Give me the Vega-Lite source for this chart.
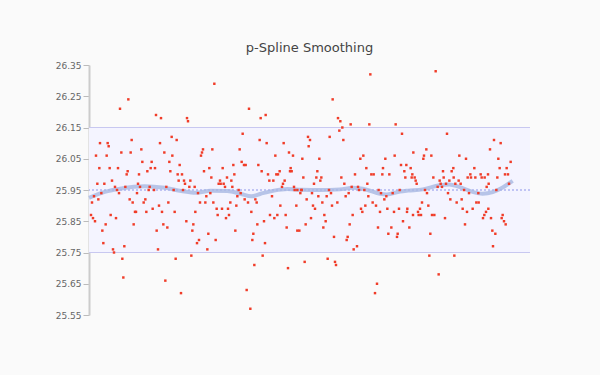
{
  "$schema": "https://vega.github.io/schema/vega-lite/v6.json",
  "width": 441,
  "height": 250,
  "autosize": "none",
  "padding": {"left": 89, "top": 65, "right": 70, "bottom": 60},
  "background": "#fafafa",
  "title": {"text": "p-Spline Smoothing", "font": "DejaVu Sans", "fontSize": 13, "fontWeight": "normal", "color": "#444", "anchor": "middle", "offset": 6},
  "config": {
    "view": {"stroke": null},
    "axisY": {"title": null, "grid": false, "labelOverlap": false, "labelBound": false, "labelFlush": false,
      "domainColor": "#cccccc", "domainWidth": 2, "tickColor": "#bbbbbb", "tickSize": 6, "tickWidth": 1,
      "labelFont": "DejaVu Sans", "labelFontSize": 9, "labelColor": "#666666", "labelPadding": 2}
  },
  "datasets": {
    "band": [{"lo": 25.75, "hi": 26.15}],
    "ref": [{"y": 25.95}],
    "smooth": [
      {"x": 3, "y": 25.925}, {"x": 50, "y": 25.944}, {"x": 100, "y": 25.955}, {"x": 170, "y": 25.962}, {"x": 230, "y": 25.957}, {"x": 280, "y": 25.947}, {"x": 324, "y": 25.941}, {"x": 368, "y": 25.948}, {"x": 418, "y": 25.947}, {"x": 458, "y": 25.938}, {"x": 490, "y": 25.930}, {"x": 518, "y": 25.938}, {"x": 558, "y": 25.948}, {"x": 598, "y": 25.953}, {"x": 642, "y": 25.951}, {"x": 696, "y": 25.950}, {"x": 756, "y": 25.952}, {"x": 796, "y": 25.957}, {"x": 836, "y": 25.951}, {"x": 876, "y": 25.938}, {"x": 896, "y": 25.936}, {"x": 936, "y": 25.945}, {"x": 960, "y": 25.948}, {"x": 1004, "y": 25.952}, {"x": 1054, "y": 25.965}, {"x": 1084, "y": 25.968}, {"x": 1114, "y": 25.960}, {"x": 1154, "y": 25.944}, {"x": 1184, "y": 25.938}, {"x": 1214, "y": 25.943}, {"x": 1244, "y": 25.958}, {"x": 1274, "y": 25.979}
    ],
    "pts": [
      {"x":121,"y":26.24},{"x":96,"y":26.21},{"x":204,"y":26.19},{"x":219,"y":26.18},{"x":297,"y":26.18},{"x":300,"y":26.17},{"x":251,"y":26.12},{"x":131,"y":26.11},{"x":266,"y":26.11},{"x":36,"y":26.10},{"x":59,"y":26.10},{"x":62,"y":26.09},{"x":216,"y":26.10},{"x":100,"y":26.07},{"x":128,"y":26.07},{"x":229,"y":26.07},{"x":24,"y":26.06},{"x":56,"y":26.06},{"x":253,"y":26.06},{"x":160,"y":26.08},{"x":163,"y":26.04},{"x":191,"y":26.04},{"x":244,"y":26.04},{"x":275,"y":26.03},{"x":34,"y":26.02},{"x":65,"y":26.02},{"x":90,"y":26.02},{"x":188,"y":26.02},{"x":201,"y":26.02},{"x":178,"y":26.01},{"x":119,"y":26.01},{"x":247,"y":26.01},{"x":116,"y":26.00},{"x":153,"y":26.00},{"x":269,"y":26.00},{"x":282,"y":26.00},{"x":72,"y":25.98},{"x":272,"y":25.98},{"x":288,"y":25.98},{"x":307,"y":25.98},{"x":28,"y":25.97},{"x":49,"y":25.97},{"x":150,"y":25.97},{"x":291,"y":25.97},{"x":81,"y":25.96},{"x":112,"y":25.96},{"x":156,"y":25.96},{"x":185,"y":25.96},{"x":235,"y":25.96},{"x":304,"y":25.96},{"x":320,"y":25.96},{"x":87,"y":25.95},{"x":182,"y":25.95},{"x":198,"y":25.95},{"x":257,"y":25.95},{"x":285,"y":25.95},{"x":40,"y":25.94},{"x":93,"y":25.94},{"x":147,"y":25.94},{"x":18,"y":25.93},{"x":31,"y":25.92},{"x":125,"y":25.92},{"x":172,"y":25.92},{"x":12,"y":25.91},{"x":134,"y":25.91},{"x":167,"y":25.91},{"x":241,"y":25.91},{"x":213,"y":25.90},{"x":194,"y":25.89},{"x":141,"y":25.88},{"x":144,"y":25.88},{"x":175,"y":25.88},{"x":222,"y":25.88},{"x":260,"y":25.88},{"x":322,"y":25.88},{"x":9,"y":25.87},{"x":68,"y":25.87},{"x":15,"y":25.86},{"x":84,"y":25.86},{"x":21,"y":25.85},{"x":295,"y":25.85},{"x":53,"y":25.84},{"x":137,"y":25.84},{"x":226,"y":25.84},{"x":316,"y":25.84},{"x":238,"y":25.83},{"x":43,"y":25.82},{"x":206,"y":25.82},{"x":313,"y":25.82},{"x":46,"y":25.78},{"x":109,"y":25.77},{"x":75,"y":25.76},{"x":210,"y":25.76},{"x":78,"y":25.75},{"x":310,"y":25.74},{"x":103,"y":25.73},{"x":263,"y":25.73},{"x":106,"y":25.67},{"x":232,"y":25.66},{"x":279,"y":25.62},
      {"x":379,"y":26.29},{"x":483,"y":26.21},{"x":533,"y":26.19},{"x":518,"y":26.18},{"x":464,"y":26.13},{"x":515,"y":26.11},{"x":536,"y":26.10},{"x":587,"y":26.10},{"x":345,"y":26.08},{"x":373,"y":26.08},{"x":455,"y":26.08},{"x":342,"y":26.07},{"x":603,"y":26.07},{"x":339,"y":26.06},{"x":562,"y":26.06},{"x":615,"y":26.06},{"x":461,"y":26.04},{"x":468,"y":26.03},{"x":473,"y":26.03},{"x":436,"y":26.03},{"x":511,"y":26.03},{"x":608,"y":26.02},{"x":364,"y":26.02},{"x":404,"y":26.02},{"x":348,"y":26.01},{"x":521,"y":26.01},{"x":575,"y":26.01},{"x":606,"y":26.01},{"x":611,"y":26.01},{"x":439,"y":26.00},{"x":540,"y":26.00},{"x":565,"y":26.00},{"x":570,"y":26.00},{"x":370,"y":25.99},{"x":417,"y":25.99},{"x":396,"y":25.98},{"x":430,"y":25.98},{"x":544,"y":25.98},{"x":556,"y":25.98},{"x":590,"y":25.98},{"x":392,"y":25.97},{"x":398,"y":25.97},{"x":407,"y":25.97},{"x":585,"y":25.97},{"x":411,"y":25.96},{"x":433,"y":25.96},{"x":582,"y":25.96},{"x":618,"y":25.96},{"x":452,"y":25.95},{"x":620,"y":25.95},{"x":628,"y":25.95},{"x":640,"y":25.95},{"x":330,"y":25.94},{"x":367,"y":25.94},{"x":458,"y":25.94},{"x":637,"y":25.94},{"x":355,"y":25.93},{"x":448,"y":25.93},{"x":552,"y":25.93},{"x":625,"y":25.90},{"x":470,"y":25.92},{"x":502,"y":25.92},{"x":336,"y":25.91},{"x":352,"y":25.91},{"x":376,"y":25.91},{"x":427,"y":25.91},{"x":480,"y":25.91},{"x":506,"y":25.91},{"x":445,"y":25.90},{"x":577,"y":25.90},{"x":386,"y":25.89},{"x":402,"y":25.89},{"x":420,"y":25.89},{"x":490,"y":25.88},{"x":389,"y":25.87},{"x":423,"y":25.87},{"x":546,"y":25.87},{"x":568,"y":25.87},{"x":593,"y":25.87},{"x":414,"y":25.86},{"x":559,"y":25.86},{"x":528,"y":25.85},{"x":508,"y":25.84},{"x":596,"y":25.83},{"x":628,"y":25.82},{"x":634,"y":25.82},{"x":361,"y":25.81},{"x":442,"y":25.82},{"x":496,"y":25.81},{"x":333,"y":25.79},{"x":383,"y":25.79},{"x":493,"y":25.79},{"x":327,"y":25.78},{"x":531,"y":25.78},{"x":358,"y":25.76},{"x":524,"y":25.74},{"x":499,"y":25.71},{"x":600,"y":25.70},{"x":476,"y":25.63},{"x":487,"y":25.57},
      {"x":847,"y":26.32},{"x":734,"y":26.24},{"x":750,"y":26.18},{"x":757,"y":26.17},{"x":763,"y":26.15},{"x":754,"y":26.14},{"x":788,"y":26.16},{"x":844,"y":26.16},{"x":923,"y":26.16},{"x":942,"y":26.13},{"x":660,"y":26.12},{"x":666,"y":26.11},{"x":725,"y":26.12},{"x":766,"y":26.11},{"x":662,"y":26.09},{"x":826,"y":26.06},{"x":817,"y":26.05},{"x":920,"y":26.06},{"x":643,"y":26.05},{"x":694,"y":26.05},{"x":892,"y":26.05},{"x":939,"y":26.03},{"x":955,"y":26.03},{"x":835,"y":26.02},{"x":885,"y":26.02},{"x":688,"y":26.01},{"x":949,"y":26.01},{"x":801,"y":26.00},{"x":850,"y":26.00},{"x":857,"y":26.00},{"x":883,"y":26.00},{"x":904,"y":26.00},{"x":646,"y":25.99},{"x":685,"y":25.99},{"x":700,"y":25.99},{"x":760,"y":25.99},{"x":952,"y":25.99},{"x":697,"y":25.98},{"x":678,"y":25.97},{"x":769,"y":25.97},{"x":838,"y":25.97},{"x":791,"y":25.96},{"x":810,"y":25.96},{"x":641,"y":25.95},{"x":723,"y":25.95},{"x":813,"y":25.95},{"x":829,"y":25.95},{"x":872,"y":25.95},{"x":935,"y":25.95},{"x":672,"y":25.94},{"x":729,"y":25.94},{"x":782,"y":25.94},{"x":879,"y":25.94},{"x":914,"y":25.94},{"x":691,"y":25.93},{"x":716,"y":25.93},{"x":773,"y":25.93},{"x":841,"y":25.93},{"x":895,"y":25.93},{"x":656,"y":25.92},{"x":889,"y":25.92},{"x":703,"y":25.91},{"x":748,"y":25.91},{"x":854,"y":25.91},{"x":675,"y":25.90},{"x":732,"y":25.90},{"x":832,"y":25.90},{"x":864,"y":25.90},{"x":681,"y":25.89},{"x":819,"y":25.89},{"x":898,"y":25.89},{"x":933,"y":25.89},{"x":958,"y":25.89},{"x":823,"y":25.88},{"x":876,"y":25.88},{"x":918,"y":25.88},{"x":957,"y":25.88},{"x":709,"y":25.87},{"x":794,"y":25.87},{"x":669,"y":25.86},{"x":713,"y":25.85},{"x":945,"y":25.85},{"x":653,"y":25.84},{"x":785,"y":25.84},{"x":706,"y":25.83},{"x":870,"y":25.83},{"x":910,"y":25.83},{"x":901,"y":25.81},{"x":929,"y":25.81},{"x":738,"y":25.80},{"x":779,"y":25.80},{"x":927,"y":25.80},{"x":776,"y":25.79},{"x":807,"y":25.77},{"x":797,"y":25.76},{"x":650,"y":25.72},{"x":719,"y":25.73},{"x":741,"y":25.72},{"x":744,"y":25.71},{"x":867,"y":25.65},{"x":861,"y":25.62},
      {"x":1043,"y":26.33},{"x":1077,"y":26.13},{"x":1218,"y":26.11},{"x":1238,"y":26.10},{"x":976,"y":26.07},{"x":1015,"y":26.08},{"x":1006,"y":26.05},{"x":1008,"y":26.06},{"x":1030,"y":26.06},{"x":1114,"y":26.06},{"x":1206,"y":26.08},{"x":1134,"y":26.05},{"x":1231,"y":26.05},{"x":1268,"y":26.04},{"x":968,"y":26.02},{"x":1096,"y":26.02},{"x":1159,"y":26.02},{"x":1235,"y":26.02},{"x":1256,"y":26.02},{"x":1065,"y":26.01},{"x":1091,"y":26.01},{"x":973,"y":26.00},{"x":1147,"y":26.00},{"x":1178,"y":26.00},{"x":1200,"y":26.00},{"x":1251,"y":26.00},{"x":1260,"y":26.00},{"x":971,"y":25.99},{"x":980,"y":25.99},{"x":1036,"y":25.99},{"x":1067,"y":25.99},{"x":1097,"y":25.99},{"x":1139,"y":25.99},{"x":1149,"y":25.99},{"x":1162,"y":25.99},{"x":1181,"y":25.99},{"x":1190,"y":25.99},{"x":1228,"y":25.99},{"x":983,"y":25.98},{"x":1055,"y":25.98},{"x":1084,"y":25.98},{"x":1112,"y":25.98},{"x":986,"y":25.97},{"x":1058,"y":25.97},{"x":1074,"y":25.97},{"x":1102,"y":25.97},{"x":1118,"y":25.97},{"x":1202,"y":25.97},{"x":1263,"y":25.97},{"x":1049,"y":25.96},{"x":1062,"y":25.96},{"x":1196,"y":25.96},{"x":1011,"y":25.95},{"x":1128,"y":25.95},{"x":1225,"y":25.95},{"x":1017,"y":25.94},{"x":1080,"y":25.94},{"x":1143,"y":25.94},{"x":1171,"y":25.94},{"x":1087,"y":25.92},{"x":1121,"y":25.92},{"x":1002,"y":25.91},{"x":1106,"y":25.91},{"x":1165,"y":25.91},{"x":1172,"y":25.91},{"x":1021,"y":25.90},{"x":996,"y":25.89},{"x":1124,"y":25.89},{"x":1154,"y":25.89},{"x":1201,"y":25.89},{"x":990,"y":25.88},{"x":1137,"y":25.88},{"x":1194,"y":25.88},{"x":975,"y":25.87},{"x":992,"y":25.87},{"x":999,"y":25.87},{"x":1032,"y":25.87},{"x":1039,"y":25.87},{"x":1189,"y":25.87},{"x":1244,"y":25.87},{"x":1071,"y":25.86},{"x":1185,"y":25.86},{"x":1209,"y":25.86},{"x":1241,"y":25.86},{"x":1248,"y":25.85},{"x":1131,"y":25.84},{"x":1253,"y":25.84},{"x":964,"y":25.83},{"x":1213,"y":25.82},{"x":1027,"y":25.81},{"x":1222,"y":25.81},{"x":1215,"y":25.77},{"x":1024,"y":25.74},{"x":1099,"y":25.74},{"x":1052,"y":25.68}
    ]
  },
  "resolve": {"scale": {"x": "shared", "y": "shared"}},
  "layer": [
    {
      "data": {"name": "band"},
      "mark": {"type": "rect", "fill": "#f4f4ff", "stroke": null},
      "encoding": {
        "y": {"field": "hi", "type": "quantitative", "scale": {"domain": [25.55, 26.35], "nice": false, "zero": false},
          "axis": {"values": [25.55, 25.65, 25.75, 25.85, 25.95, 26.05, 26.15, 26.25, 26.35], "format": ".2f", "labelOverlap": false}},
        "y2": {"field": "lo"}
      }
    },
    {
      "data": {"name": "band"},
      "mark": {"type": "rule", "color": "#c8c8f0", "strokeWidth": 1},
      "encoding": {"y": {"field": "hi", "type": "quantitative", "axis": {"values": [25.55, 25.65, 25.75, 25.85, 25.95, 26.05, 26.15, 26.25, 26.35], "format": ".2f", "labelOverlap": false}}}
    },
    {
      "data": {"name": "band"},
      "mark": {"type": "rule", "color": "#c8c8f0", "strokeWidth": 1},
      "encoding": {"y": {"field": "lo", "type": "quantitative", "axis": {"values": [25.55, 25.65, 25.75, 25.85, 25.95, 26.05, 26.15, 26.25, 26.35], "format": ".2f", "labelOverlap": false}}}
    },
    {
      "data": {"name": "ref"},
      "mark": {"type": "rule", "color": "#c0c4f4", "strokeWidth": 2, "strokeDash": [2, 2]},
      "encoding": {"y": {"field": "y", "type": "quantitative", "axis": {"values": [25.55, 25.65, 25.75, 25.85, 25.95, 26.05, 26.15, 26.25, 26.35], "format": ".2f", "labelOverlap": false}}}
    },
    {
      "data": {"name": "smooth"},
      "mark": {"type": "line", "interpolate": "monotone", "color": "#a8b8e2", "strokeWidth": 4, "opacity": 0.8},
      "encoding": {
        "x": {"field": "x", "type": "quantitative", "scale": {"domain": [3, 1326], "nice": false, "zero": false}, "axis": null},
        "y": {"field": "y", "type": "quantitative", "axis": {"values": [25.55, 25.65, 25.75, 25.85, 25.95, 26.05, 26.15, 26.25, 26.35], "format": ".2f", "labelOverlap": false}}
      }
    },
    {
      "data": {"name": "pts"},
      "mark": {"type": "square", "color": "#f03c28", "size": 6, "opacity": 1},
      "encoding": {
        "x": {"field": "x", "type": "quantitative"},
        "y": {"field": "y", "type": "quantitative", "axis": {"values": [25.55, 25.65, 25.75, 25.85, 25.95, 26.05, 26.15, 26.25, 26.35], "format": ".2f", "labelOverlap": false}}
      }
    }
  ]
}
